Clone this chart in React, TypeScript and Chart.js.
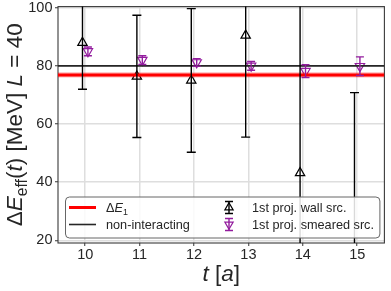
import React, { useEffect, useRef } from 'react';
import { Chart, registerables } from 'chart.js';

Chart.register(...registerables);

// ---- data ----
const timeSlices = [10, 11, 12, 13, 14, 15];
const wallValues = [88.0, 76.4, 75.0, 90.5, 43.2, 8.0];
const wallErrors = [16.0, 21.0, 24.7, 35.0, 70.0, 62.8];
const smearedValues = [85.0, 82.0, 81.2, 80.0, 78.2, 79.9];
const smearedErrors = [1.5, 1.5, 1.3, 1.5, 2.2, 3.2];
const deltaE1 = 76.9;
const deltaE1Err = 0.9;
const nonInteracting = 80.0;
const xTicks = [10, 11, 12, 13, 14, 15];
const yTicks = [20, 40, 60, 80, 100];
const xRange = [9.5, 15.5];
const yRange = [19.1, 100.4];
const seriesOffset = 0.05;

const labelDeltaE1 = 'ΔE1';
const labelNonInt = 'non-interacting';
const labelWall = '1st proj. wall src.';
const labelSmeared = '1st proj. smeared src.';

type Seg = { t: string; i?: boolean; sub?: boolean };
const deltaE1Segs: Seg[] = [{ t: 'Δ' }, { t: 'E', i: true }, { t: '1', sub: true }];
const yTitleSegs: Seg[] = [
  { t: 'Δ' }, { t: 'E', i: true }, { t: 'eff', sub: true }, { t: '(' }, { t: 't', i: true },
  { t: ') [MeV] ' }, { t: 'L', i: true }, { t: ' = 40' },
];
const xTitleSegs: Seg[] = [{ t: 't', i: true }, { t: ' [' }, { t: 'a', i: true }, { t: ']' }];

const FAMILY = '"Liberation Sans", Arial, sans-serif';
const PURPLE = '#931c9e';

function segFont(s: Seg, size: number) {
  const sz = s.sub ? size * 0.7 : size;
  return `${s.i ? 'italic ' : ''}${sz}px ${FAMILY}`;
}
function richWidth(ctx: CanvasRenderingContext2D, segs: Seg[], size: number) {
  let w = 0;
  for (const s of segs) { ctx.font = segFont(s, size); w += ctx.measureText(s.t).width; }
  return w;
}
function drawRich(ctx: CanvasRenderingContext2D, segs: Seg[], x: number, y: number, size: number, color: string) {
  ctx.fillStyle = color;
  ctx.textBaseline = 'alphabetic';
  ctx.textAlign = 'left';
  let cx = x;
  for (const s of segs) {
    ctx.font = segFont(s, size);
    ctx.fillText(s.t, cx, s.sub ? y + size * 0.22 : y);
    cx += ctx.measureText(s.t).width;
  }
}
function triPath(ctx: CanvasRenderingContext2D, x: number, y: number, r: number, down: boolean) {
  const s = down ? -1 : 1;
  ctx.beginPath();
  ctx.moveTo(x, y - s * r);
  ctx.lineTo(x + r * Math.sin(Math.PI / 3), y + s * r * 0.5);
  ctx.lineTo(x - r * Math.sin(Math.PI / 3), y + s * r * 0.5);
  ctx.closePath();
}

const framePlugin = {
  id: 'frame',
  beforeDatasetsDraw(chart: any) {
    const { ctx, chartArea: a } = chart;
    ctx.save();
    ctx.strokeStyle = '#3a3a3a';
    ctx.lineWidth = 1.1;
    ctx.strokeRect(a.left, a.top, a.right - a.left, a.bottom - a.top);
    ctx.restore();
  },
};

const errorBarPlugin = {
  id: 'errorBars',
  afterDatasetsDraw(chart: any) {
    const { ctx, chartArea: a } = chart;
    const xs = chart.scales.x, ys = chart.scales.y;
    ctx.save();
    ctx.beginPath();
    ctx.rect(a.left, a.top, a.right - a.left, a.bottom - a.top);
    ctx.clip();
    chart.data.datasets.forEach((ds: any) => {
      if (!ds.errors) return;
      ctx.strokeStyle = ds.borderColor;
      ctx.lineWidth = ds.errorWidth;
      const cap = ds.capSize;
      ds.data.forEach((p: any, j: number) => {
        const e = ds.errors[j];
        const px = xs.getPixelForValue(p.x);
        const top = ys.getPixelForValue(p.y + e);
        const bot = ys.getPixelForValue(p.y - e);
        ctx.beginPath();
        ctx.moveTo(px, top); ctx.lineTo(px, bot);
        ctx.moveTo(px - cap, top); ctx.lineTo(px + cap, top);
        ctx.moveTo(px - cap, bot); ctx.lineTo(px + cap, bot);
        ctx.stroke();
      });
    });
    ctx.restore();
  },
};

const titlePlugin = {
  id: 'titles',
  afterDraw(chart: any) {
    const { ctx, chartArea: a } = chart;
    const size = 22.5;
    ctx.save();
    const wy = richWidth(ctx, yTitleSegs, size);
    ctx.translate(22, (a.top + a.bottom) / 2);
    ctx.rotate(-Math.PI / 2);
    drawRich(ctx, yTitleSegs, -wy / 2, 0, size, '#262626');
    ctx.restore();
    ctx.save();
    const wx = richWidth(ctx, xTitleSegs, size);
    drawRich(ctx, xTitleSegs, (a.left + a.right) / 2 - wx / 2, 281, size, '#262626');
    ctx.restore();
  },
};

const legendPlugin = {
  id: 'customLegend',
  afterDraw(chart: any) {
    const { ctx, chartArea: a } = chart;
    const ds = chart.data.datasets;
    const bx = a.left + 7, by = a.bottom - 46.5;
    const bw = a.right - 5 - bx, bh = 41;
    ctx.save();
    ctx.beginPath();
    ctx.roundRect(bx + 0.5, by + 0.5, bw, bh, 4);
    ctx.fillStyle = 'rgba(255,255,255,0.85)';
    ctx.fill();
    ctx.strokeStyle = '#666';
    ctx.lineWidth = 1;
    ctx.stroke();

    const fs = 12.7;
    const row1 = by + 11, row2 = by + 28;
    const lineItems = [ds[2], ds[3]];
    lineItems.forEach((d: any, k: number) => {
      const ry = k === 0 ? row1 : row2;
      ctx.beginPath();
      ctx.strokeStyle = d.borderColor;
      ctx.lineWidth = d.borderWidth;
      ctx.moveTo(bx + 4, ry); ctx.lineTo(bx + 31, ry);
      ctx.stroke();
      const segs: Seg[] = d.label === labelDeltaE1 ? deltaE1Segs : [{ t: d.label }];
      drawRich(ctx, segs, bx + 41, ry + fs * 0.36, fs, '#262626');
    });
    const ptItems = [ds[4], ds[5]];
    const ix = bx + 164;
    ptItems.forEach((d: any, k: number) => {
      const ry = k === 0 ? row1 : row2;
      ctx.strokeStyle = d.borderColor;
      ctx.lineWidth = d.errorWidth;
      ctx.beginPath();
      ctx.moveTo(ix, ry - 6); ctx.lineTo(ix, ry + 6);
      ctx.moveTo(ix - 4, ry - 6); ctx.lineTo(ix + 4, ry - 6);
      ctx.moveTo(ix - 4, ry + 6); ctx.lineTo(ix + 4, ry + 6);
      ctx.stroke();
      ctx.lineWidth = d.borderWidth;
      triPath(ctx, ix, ry, 4.8, d.rotation === 180);
      ctx.stroke();
      drawRich(ctx, [{ t: d.label }], bx + 187, ry + fs * 0.36, fs, '#262626');
    });
    ctx.restore();
  },
};

export default function App() {
  const ref = useRef<HTMLCanvasElement>(null);
  useEffect(() => {
    document.body.style.margin = '0';
    const canvas = ref.current!;
    const chart = new Chart(canvas, {
      type: 'scatter',
      data: {
        datasets: [
          {
            type: 'line', label: 'band-low',
            data: xRange.map((x) => ({ x, y: deltaE1 - deltaE1Err })),
            borderWidth: 0, pointRadius: 0, fill: false, borderColor: 'rgba(0,0,0,0)',
          },
          {
            type: 'line', label: 'band-high',
            data: xRange.map((x) => ({ x, y: deltaE1 + deltaE1Err })),
            borderWidth: 0, pointRadius: 0, fill: '-1', borderColor: 'rgba(0,0,0,0)',
            backgroundColor: 'rgba(255,0,0,0.28)',
          },
          {
            type: 'line', label: labelDeltaE1,
            data: xRange.map((x) => ({ x, y: deltaE1 })),
            borderColor: '#ff0000', borderWidth: 3, pointRadius: 0,
          },
          {
            type: 'line', label: labelNonInt,
            data: xRange.map((x) => ({ x, y: nonInteracting })),
            borderColor: '#262626', borderWidth: 1.6, pointRadius: 0,
          },
          {
            type: 'scatter', label: labelWall,
            data: timeSlices.map((t, i) => ({ x: t - seriesOffset, y: wallValues[i] })),
            errors: wallErrors, errorWidth: 1.4, capSize: 4.5,
            pointStyle: 'triangle', pointRadius: 5.4, borderWidth: 1.2,
            borderColor: '#000000', backgroundColor: 'rgba(0,0,0,0)',
          } as any,
          {
            type: 'scatter', label: labelSmeared,
            data: timeSlices.map((t, i) => ({ x: t + seriesOffset, y: smearedValues[i] })),
            errors: smearedErrors, errorWidth: 1.4, capSize: 4,
            pointStyle: 'triangle', rotation: 180, pointRadius: 5.4, borderWidth: 1.2,
            borderColor: PURPLE, backgroundColor: 'rgba(0,0,0,0)',
          } as any,
        ],
      },
      options: {
        animation: false,
        responsive: false,
        devicePixelRatio: 1,
        layout: { padding: { top: 6, right: 6, left: 0, bottom: 0 } },
        plugins: { legend: { display: false }, tooltip: { enabled: false } },
        scales: {
          x: {
            type: 'linear', min: xRange[0], max: xRange[1],
            afterBuildTicks: (s: any) => { s.ticks = xTicks.map((v) => ({ value: v })); },
            afterFit: (s: any) => { s.height = 48; s.paddingLeft = 0; s.paddingRight = 0; },
            ticks: { font: { size: 14.5, family: FAMILY }, color: '#262626', padding: 0, maxRotation: 0 },
            grid: { color: '#dedede', lineWidth: 1.5, tickColor: '#333', tickLength: 3, tickWidth: 1 },
            border: { display: false },
          },
          y: {
            type: 'linear', min: yRange[0], max: yRange[1],
            afterBuildTicks: (s: any) => { s.ticks = yTicks.map((v) => ({ value: v })); },
            afterFit: (s: any) => { s.width = 58; s.paddingTop = 0; s.paddingBottom = 0; },
            ticks: { font: { size: 14.5, family: FAMILY }, color: '#262626', padding: 2.5 },
            grid: { color: '#dedede', lineWidth: 1.5, tickColor: '#333', tickLength: 3, tickWidth: 1 },
            border: { display: false },
          },
        },
      },
      plugins: [framePlugin, errorBarPlugin, titlePlugin, legendPlugin],
    } as any);
    return () => chart.destroy();
  }, []);
  return (
    <div style={{ width: 391, height: 291 }}>
      <canvas ref={ref} width={391} height={291} style={{ display: 'block' }} />
    </div>
  );
}
